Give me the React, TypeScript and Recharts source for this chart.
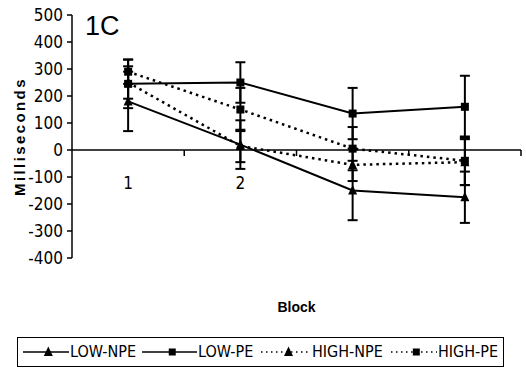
import React from 'react'
import { LineChart, Line, XAxis, YAxis, ErrorBar, ReferenceLine } from 'recharts'

const blocks = ['1', '2', '3', '4']
const blockTickLabels = ['1', '2', '', '']
const yTicks = [-400, -300, -200, -100, 0, 100, 200, 300, 400, 500]

const lowNpe = [180, 20, -150, -175]
const lowNpeErr = [110, 90, 110, 95]
const lowPe = [245, 250, 135, 160]
const lowPeErr = [90, 75, 95, 115]
const highNpe = [250, 15, -55, -45]
const highNpeErr = [60, 60, 60, 85]
const highPe = [290, 150, 5, -40]
const highPeErr = [45, 80, 80, 90]

const data = blocks.map((block, i) => ({
  block,
  lowNpe: lowNpe[i],
  lowNpeErr: lowNpeErr[i],
  lowPe: lowPe[i],
  lowPeErr: lowPeErr[i],
  highNpe: highNpe[i],
  highNpeErr: highNpeErr[i],
  highPe: highPe[i],
  highPeErr: highPeErr[i],
}))

const W = 526
const H = 370
const MARGIN = { top: 15, right: 5, left: 0, bottom: 52 }
const Y_AXIS_W = 72
const X_AXIS_H = 60
const Y_MIN = -400
const Y_MAX = 500
const PLOT_H = H - MARGIN.top - MARGIN.bottom - X_AXIS_H
const PLOT_W = W - MARGIN.left - MARGIN.right - Y_AXIS_W
const BAND = PLOT_W / blocks.length
const ZERO_Y = MARGIN.top + (PLOT_H * Y_MAX) / (Y_MAX - Y_MIN)

const NARROW = "'Liberation Sans Narrow', 'DejaVu Sans Condensed', Arial, sans-serif"
const DOTTED_DASH = '2.5 4'

const Triangle = ({ cx, cy, size = 9 }: any) => (
  <path
    d={`M${cx},${cy - size * 0.6} L${cx + size / 2},${cy + size * 0.45} L${cx - size / 2},${cy + size * 0.45} Z`}
    fill="#000"
  />
)

const Square = ({ cx, cy, size = 8 }: any) => (
  <rect x={cx - size / 2} y={cy - size / 2} width={size} height={size} fill="#000" />
)

const triangleDot = (props: any) => <Triangle key={`t-${props.dataKey}-${props.index}`} cx={props.cx} cy={props.cy} />
const squareDot = (props: any) => <Square key={`s-${props.dataKey}-${props.index}`} cx={props.cx} cy={props.cy} />

const BlockTick = (props: any) => {
  const { x, index } = props
  return (
    <g>
      <text x={x} y={ZERO_Y + 39} textAnchor="middle" fontFamily={NARROW} fontSize={17} fill="#000">
        {blockTickLabels[index]}
      </text>
      <line x1={x + BAND / 2} x2={x + BAND / 2} y1={ZERO_Y} y2={ZERO_Y + 6} stroke="#000" strokeWidth={1.5} />
    </g>
  )
}

const YLabel = (props: any) => {
  const { viewBox } = props
  const cx = viewBox.x + 19
  const cy = viewBox.y + viewBox.height / 2
  return (
    <text
      x={cx}
      y={cy}
      transform={`rotate(-90 ${cx} ${cy})`}
      textAnchor="middle"
      dominantBaseline="central"
      fontFamily="'Liberation Sans', Arial, sans-serif"
      fontWeight="bold"
      fontSize={15}
      letterSpacing={2.4}
      fill="#000"
    >
      Milliseconds
    </text>
  )
}

const legendItems = [
  { name: 'LOW-NPE', dotted: false, marker: 'triangle', left: 5, symbolW: 46 },
  { name: 'LOW-PE', dotted: false, marker: 'square', left: 124, symbolW: 55 },
  { name: 'HIGH-NPE', dotted: true, marker: 'triangle', left: 243, symbolW: 50 },
  { name: 'HIGH-PE', dotted: true, marker: 'square', left: 373, symbolW: 46 },
]

function ChartLegend() {
  return (
    <div
      style={{
        position: 'absolute',
        left: 17,
        top: 337,
        width: 487,
        height: 30,
        border: '1.5px solid #000',
        boxSizing: 'border-box',
        fontFamily: NARROW,
        fontSize: 16,
        color: '#000',
      }}
    >
      {legendItems.map((item) => (
        <div
          key={item.name}
          style={{
            position: 'absolute',
            left: item.left,
            top: 0,
            height: 27,
            display: 'flex',
            alignItems: 'center',
            whiteSpace: 'nowrap',
          }}
        >
          <svg width={item.symbolW} height={14}>
            <line
              x1={0}
              x2={item.symbolW}
              y1={7}
              y2={7}
              stroke="#000"
              strokeWidth={1.5}
              strokeDasharray={item.dotted ? '1.5 3.5' : undefined}
            />
            {item.marker === 'triangle' ? (
              <Triangle cx={item.symbolW * 0.55} cy={7} size={9} />
            ) : (
              <Square cx={item.symbolW * 0.55} cy={7} size={7} />
            )}
          </svg>
          <span style={{ marginLeft: 1 }}>{item.name}</span>
        </div>
      ))}
    </div>
  )
}

export default function App() {
  return (
    <div style={{ position: 'relative', width: W, height: H, background: '#fff' }}>
      <style>{'body{margin:0}'}</style>
      <LineChart width={W} height={H} data={data} margin={MARGIN}>
        <XAxis
          dataKey="block"
          scale="band"
          height={X_AXIS_H}
          axisLine={false}
          tickLine={false}
          tick={<BlockTick />}
          interval={0}
          label={{
            value: 'Block',
            position: 'insideBottom',
            offset: 6,
            style: { fontFamily: "'Liberation Sans', Arial, sans-serif", fontWeight: 'bold', fontSize: 14, fill: '#000' },
          }}
        />
        <YAxis
          width={Y_AXIS_W}
          domain={[Y_MIN, Y_MAX]}
          ticks={yTicks}
          interval={0}
          axisLine={{ stroke: '#000', strokeWidth: 1.5 }}
          tickLine={{ stroke: '#000', strokeWidth: 1.5 }}
          tickSize={5}
          tickMargin={4}
          tick={{ fill: '#000', fontFamily: NARROW, fontSize: 17 }}
          label={<YLabel />}
        />
        <ReferenceLine y={0} stroke="#000" strokeWidth={1.5} />
        <Line
          dataKey="lowNpe"
          stroke="#000"
          strokeWidth={2}
          dot={triangleDot}
          activeDot={false}
          isAnimationActive={false}
        >
          <ErrorBar dataKey="lowNpeErr" width={5} stroke="#000" strokeWidth={2} direction="y" isAnimationActive={false} />
        </Line>
        <Line
          dataKey="lowPe"
          stroke="#000"
          strokeWidth={2}
          dot={squareDot}
          activeDot={false}
          isAnimationActive={false}
        >
          <ErrorBar dataKey="lowPeErr" width={5} stroke="#000" strokeWidth={2} direction="y" isAnimationActive={false} />
        </Line>
        <Line
          dataKey="highNpe"
          stroke="#000"
          strokeWidth={2.5}
          strokeDasharray={DOTTED_DASH}
          dot={triangleDot}
          activeDot={false}
          isAnimationActive={false}
        >
          <ErrorBar dataKey="highNpeErr" width={5} stroke="#000" strokeWidth={2} direction="y" isAnimationActive={false} />
        </Line>
        <Line
          dataKey="highPe"
          stroke="#000"
          strokeWidth={2.5}
          strokeDasharray={DOTTED_DASH}
          dot={squareDot}
          activeDot={false}
          isAnimationActive={false}
        >
          <ErrorBar dataKey="highPeErr" width={5} stroke="#000" strokeWidth={2} direction="y" isAnimationActive={false} />
        </Line>
      </LineChart>
      <div
        style={{
          position: 'absolute',
          left: 85,
          top: 11,
          fontFamily: "'Liberation Sans', Arial, sans-serif",
          fontSize: 27,
          lineHeight: '30px',
          color: '#000',
        }}
      >
        1C
      </div>
      <ChartLegend />
    </div>
  )
}
